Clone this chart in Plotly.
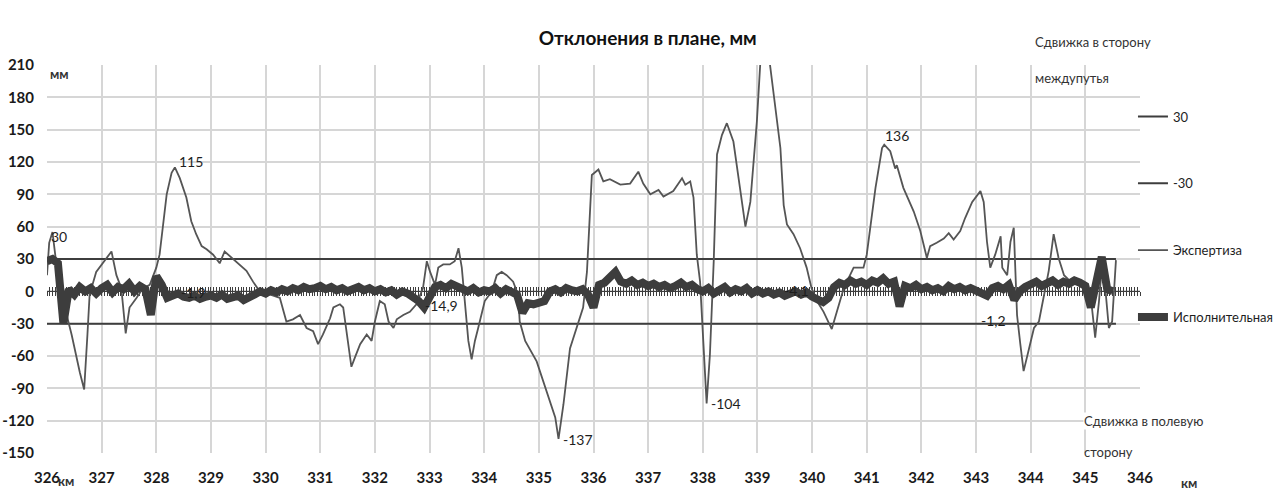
import plotly.graph_objects as go

# Track deviations in plan along the section 326-346 km (mm)

# Expert survey ("Экспертиза"): chainage, km / deviation, mm
exp_km = [326.0, 326.04, 326.1, 326.15, 326.22, 326.3, 326.45, 326.6, 326.68, 326.74,
          326.78, 326.9, 326.96, 327.08, 327.15, 327.18, 327.27, 327.36, 327.44, 327.51,
          327.64, 327.76, 327.88, 328.0, 328.06, 328.19, 328.28, 328.34, 328.43, 328.55,
          328.64, 328.73, 328.83, 328.92, 329.04, 329.16, 329.25, 329.38, 329.53, 329.65,
          329.77, 329.89, 330.02, 330.26, 330.38, 330.5, 330.63, 330.75, 330.87, 330.96,
          331.05, 331.18, 331.24, 331.36, 331.42, 331.48, 331.57, 331.63, 331.73, 331.85,
          331.94, 332.0, 332.09, 332.18, 332.25, 332.34, 332.4, 332.52, 332.64, 332.76,
          332.88, 332.95, 333.01, 333.1, 333.16, 333.25, 333.37, 333.46, 333.53, 333.59,
          333.65, 333.71, 333.77, 333.83, 333.89, 334.01, 334.14, 334.23, 334.32, 334.41,
          334.53, 334.62, 334.65, 334.75, 334.96, 335.14, 335.3, 335.36, 335.45, 335.57,
          335.69, 335.81, 335.88, 335.97, 336.09, 336.18, 336.3, 336.49, 336.67, 336.82,
          336.91, 337.04, 337.19, 337.28, 337.46, 337.62, 337.68, 337.77, 337.83, 337.89,
          337.95, 338.01, 338.07, 338.13, 338.2, 338.26, 338.35, 338.44, 338.56, 338.68,
          338.78, 338.87, 338.99, 339.05, 339.14, 339.23, 339.36, 339.42, 339.48, 339.54,
          339.66, 339.78, 339.9, 339.99, 340.09, 340.21, 340.36, 340.48, 340.58, 340.76,
          340.94, 341.0, 341.16, 341.28, 341.32, 341.43, 341.52, 341.55, 341.67, 341.86,
          341.98, 342.1, 342.16, 342.28, 342.41, 342.5, 342.59, 342.71, 342.8, 342.93,
          343.08, 343.14, 343.2, 343.26, 343.35, 343.45, 343.48, 343.57, 343.63, 343.69,
          343.72, 343.75, 343.81, 343.87, 343.97, 344.06, 344.15, 344.24, 344.33, 344.42,
          344.51, 344.61, 344.73, 344.91, 345.03, 345.12, 345.18, 345.25, 345.31, 345.37,
          345.43, 345.49, 345.56]
exp_mm = [15, 45, 55, 35, 5, -10, -40, -75, -91, -40,
          -3, 18, 22, 30, 35, 37, 15, 3, -39, -15,
          -6, 3, 6, 22, 34, 90, 110, 115, 105, 87,
          65, 53, 42, 39, 34, 26, 37, 31, 25, 19,
          9, 0, -2, -6, -28, -26, -22, -34, -37, -49,
          -40, -25, -15, -12, -15, -37, -70, -62, -49, -40,
          -46, -28, -9, -12, -28, -34, -26, -22, -19, -12,
          3, 28, 18, 6, 22, 25, 25, 28, 40, 22,
          -15, -46, -63, -46, -34, -9, 0, 15, 18, 15,
          9, -3, -28, -46, -65, -93, -117, -137, -105, -53,
          -34, -15, 18, 108, 113, 102, 104, 99, 100, 111,
          100, 90, 94, 88, 93, 105, 99, 102, 87, 34,
          9, -43, -104, -59, 28, 127, 145, 156, 139, 96,
          60, 83, 158, 210, 245, 210, 158, 133, 80, 62,
          53, 40, 22, 3, -9, -19, -35, -15, 3, 22,
          22, 34, 96, 133, 136, 130, 114, 117, 96, 74,
          56, 31, 42, 45, 49, 54, 48, 56, 68, 83,
          93, 83, 46, 22, 34, 51, 22, 15, 46, 59,
          22, -22, -49, -74, -53, -34, -28, -6, 19, 53,
          31, 15, 9, 6, 3, -15, -43, -9, 28, 0,
          -34, -28, 29]

# As-built survey ("Исполнительная"), one value per 100 m starting at 326.0 km
isp_mm = [
    28, 30, 26, -30, 2, -3, 4, 0, 3, -2,            # 326
    3, 6, -1, 4, 2, 7, 0, 5, 2, -22,                # 327
    14, 6, -6, -4, -1.9, -5, -6, -4, -7, -5,        # 328
    -4, -6, -3, -7, -5, -4, -8, -6, -3, 0,          # 329
    -2, 1, -1, 2, 0, 3, 1, 4, 2, 3,                 # 330
    5, 2, 4, 1, 3, 0, 2, 4, 1, 3,                   # 331
    0, 2, -1, 1, -3, 0, -2, -5, -9, -14.9,          # 332
    -6, 4, 6, 3, 7, 4, 2, 0, 3, -1,                 # 333
    1, 0, 3, -2, 2, 0, -3, -20, -11, -12,           # 334
    -10, -9, 0, 2, -1, 3, 1, 0, 2, -3,              # 335
    -15, 6, 8, 12, 18, 9, 7, 10, 6, 8,              # 336
    5, 7, 4, 6, 3, 5, 8, 4, 6, 2,                   # 337
    0, 3, -2, 1, 4, -1, 2, 0, 3, -2,                # 338
    1, -2, 0, -3, -1, -4.1, -2, 0, -3, -1,          # 339
    -5, -8, -10, -6, 4, 8, 6, 10, 7, 9,             # 340
    6, 10, 8, 12, 7, 9, -14, 5, 3, 6,               # 341
    2, 4, 1, 3, 0, 5, 2, 4, 1, 3,                   # 342
    0, -1.2, -4, 3, 5, 2, 6, -8, 0, 4,              # 343
    6, 9, 5, 8, 10, 6, 9, 7, 10, 8,                 # 344
    5, -15, 10, 32, 2, 0,                           # 345
]
isp_km = [round(326 + 0.1 * i, 1) for i in range(len(isp_mm))]

# Tolerance limits, mm
limit_km = [326.0, 345.56]
limit_up = [30, 30]
limit_down = [-30, -30]

# Axis ticks
x_ticks = list(range(326, 347))
y_ticks = list(range(-150, 211, 30))
y_tick_text = [str(v) for v in y_ticks]

# Value labels: (km, mm, text, x-shift px, y-shift px)
exp_labels = [(328.34, 115, "115", 16, 6), (335.36, -137, "-137", 19, -1),
              (338.07, -104, "-104", 19, 0), (341.32, 136, "136", 13, 9)]
isp_labels = [(326.1, 30, "30", 7, 23), (328.4, -1.9, "-1,9", 15, 1),
              (332.9, -14.9, "-14,9", 17, 2), (339.5, -4.1, "-4,1", 12, 5),
              (343.1, -1.2, "-1,2", 12, -28)]

FONT = "Lato, Liberation Sans, sans-serif"
DARK = "#3d3d3d"
TXT = "#1e1e1e"

fig = go.Figure()
fig.add_trace(go.Scatter(x=limit_km, y=limit_up, mode="lines", name="30",
                         legendgroup="a", line=dict(color=DARK, width=2)))
fig.add_trace(go.Scatter(x=limit_km, y=limit_down, mode="lines", name="-30",
                         legendgroup="b", line=dict(color=DARK, width=2)))
fig.add_trace(go.Scatter(x=exp_km, y=exp_mm, mode="lines", name="Экспертиза",
                         legendgroup="c", line=dict(color="#555555", width=1.8)))
fig.add_trace(go.Scatter(x=isp_km, y=isp_mm, mode="lines", name="Исполнительная",
                         legendgroup="d", line=dict(color=DARK, width=8)))

for km, mm, txt, dx, dy in exp_labels + isp_labels:
    fig.add_annotation(x=km, y=mm, xref="x", yref="y", text=txt, showarrow=False,
                       xshift=dx, yshift=dy, font=dict(family=FONT, size=14, color=TXT))

# Axis crossing at zero with dense tick marks
zero_pos = (0 - (-150)) / (210 - (-150))
axis_common = dict(overlaying="x", anchor="free", position=zero_pos, range=[326, 346],
                   showgrid=False, zeroline=False, showticklabels=False,
                   tick0=326, dtick=0.05, ticklen=4, tickwidth=1, tickcolor=DARK,
                   showline=True, linecolor=DARK, linewidth=1, layer="below traces",
                   automargin=False)
fig.update_layout(xaxis2=dict(ticks="outside", **axis_common),
                  xaxis3=dict(ticks="inside", **axis_common))
fig.add_trace(go.Scatter(x=[326, 346], y=[0, 0], xaxis="x2", mode="lines",
                         line=dict(width=0), hoverinfo="skip", showlegend=False))
fig.add_trace(go.Scatter(x=[326, 346], y=[0, 0], xaxis="x3", mode="lines",
                         line=dict(width=0), hoverinfo="skip", showlegend=False))

tick_font = dict(family=FONT, size=15, color="#1a1a1a", weight="bold")
fig.update_layout(xaxis=dict(range=[326, 346], tickvals=x_ticks, automargin=False,
                             showgrid=True, gridcolor="#d6d6d6", gridwidth=1.5,
                             zeroline=False, showline=False, ticks="",
                             ticklabelstandoff=14, tickfont=tick_font),
                  yaxis=dict(range=[-150, 210], tickvals=y_ticks, ticktext=y_tick_text,
                             automargin=False,
                             showgrid=True, gridcolor="#d6d6d6", gridwidth=1.5,
                             zeroline=False, showline=False, ticks="",
                             ticklabelstandoff=12, tickfont=tick_font))

# Units and direction notes
notes = [
    dict(x=0.002, y=1.0, text="<b>мм</b>", xanchor="left", yanchor="top", bgcolor="white", size=13),
    dict(x=0.009, y=-0.072, text="<b>км</b>", xanchor="left", yanchor="middle", size=13),
    dict(x=1.0366, y=-0.077, text="<b>км</b>", xanchor="left", yanchor="middle", size=13),
    dict(x=0.903, y=1.059, text="Сдвижка в сторону", xanchor="left", yanchor="middle", size=13),
    dict(x=0.903, y=0.966, text="междупутья", xanchor="left", yanchor="middle", size=13),
    dict(x=0.948, y=0.082, text="Сдвижка в полевую", xanchor="left", yanchor="middle",
         bgcolor="white", size=13),
    dict(x=0.948, y=0.003, text="сторону", xanchor="left", yanchor="middle", size=13),
]
for n in notes:
    fig.add_annotation(x=n["x"], y=n["y"], xref="paper", yref="paper", text=n["text"],
                       showarrow=False, xanchor=n["xanchor"], yanchor=n["yanchor"],
                       bgcolor=n.get("bgcolor", "rgba(0,0,0,0)"), borderpad=0,
                       font=dict(family=FONT, size=n["size"], color="#333333"))

fig.update_layout(
    width=1275, height=501,
    margin=dict(l=47, r=135, t=65, b=48, autoexpand=False),
    paper_bgcolor="white", plot_bgcolor="white",
    title=dict(text="<b>Отклонения в плане, мм</b>", x=0.508, xanchor="center",
               y=0.924, yanchor="middle",
               font=dict(family=FONT, size=19, color="#111111")),
    legend=dict(xref="container", x=0.8886, y=0.906, xanchor="left", yanchor="top",
                tracegroupgap=47, itemwidth=30, bgcolor="rgba(0,0,0,0)",
                font=dict(family=FONT, size=13, color=TXT)),
    showlegend=True,
)

fig.write_html("out.html")
